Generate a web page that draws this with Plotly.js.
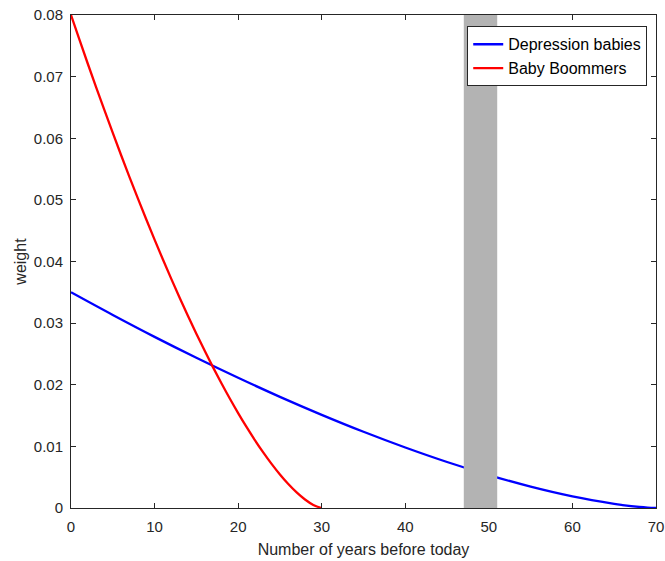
<!DOCTYPE html>
<html>
<head>
<meta charset="utf-8">
<script src="https://cdn.plot.ly/plotly-3.0.1.min.js"></script>
<style>html,body{margin:0;padding:0;background:#fff;}#chart{width:665px;height:561px;}</style>
</head>
<body>
<div id="chart"></div>
<script>
// Depression babies weights
const yearsBlue = [0, 5, 10, 15, 20, 25, 30, 35, 40, 45, 50, 55, 60, 65, 66, 68, 69, 70];
const weightBlue = [0.035, 0.03132, 0.02777, 0.02438, 0.02113, 0.01804, 0.01512, 0.01237, 0.00982, 0.00747, 0.00535, 0.00347, 0.00189, 0.00067, 0.00048, 0.00017, 0.00006, 0];
// Baby Boommers weights
const yearsRed = [0, 1, 2, 3, 4, 5, 6, 7, 8, 9, 10, 11, 12, 13, 14, 15, 16, 17, 18, 19, 20, 21, 22, 23, 24, 25, 26, 27, 28, 29, 30];
const weightRed = [0.08, 0.07603, 0.07213, 0.06830, 0.06455, 0.06086, 0.05724, 0.05370, 0.05024, 0.04685, 0.04355, 0.04032, 0.03718, 0.03413, 0.03116, 0.02828, 0.02550, 0.02282, 0.02024, 0.01776, 0.01540, 0.01315, 0.01102, 0.00902, 0.00716, 0.00544, 0.00389, 0.00253, 0.00138, 0.00049, 0];
// shaded band
const bandYears = [47, 51];
const seriesNames = ['Depression babies', 'Baby Boommers'];
const xTicks = [0, 10, 20, 30, 40, 50, 60, 70];
const yTicks = [0, 0.01, 0.02, 0.03, 0.04, 0.05, 0.06, 0.07, 0.08];
const yTickText = ['0', '0.01', '0.02', '0.03', '0.04', '0.05', '0.06', '0.07', '0.08'];

const fontFam = '"Liberation Sans", Arial, sans-serif';
const axColor = '#262626';

const traces = [
  {x: yearsBlue, y: weightBlue, name: seriesNames[0], mode: 'lines',
   line: {color: '#0000ff', width: 2.3, shape: 'spline'}},
  {x: yearsRed, y: weightRed, name: seriesNames[1], mode: 'lines',
   line: {color: '#ff0000', width: 2.3, shape: 'spline'}}
];

const axisCommon = {
  showgrid: false, zeroline: false, showline: true, mirror: 'ticks',
  linecolor: axColor, linewidth: 1, ticks: 'inside', ticklen: 5, tickcolor: axColor,
  tickfont: {family: fontFam, size: 15, color: axColor}
};

const layout = {
  width: 665, height: 561,
  margin: {l: 71, r: 9, t: 15, b: 53},
  paper_bgcolor: '#fff', plot_bgcolor: '#fff',
  showlegend: true,
  legend: {x: 0.985, y: 0.977, xanchor: 'right', yanchor: 'top',
    bgcolor: '#fff', bordercolor: axColor, borderwidth: 1,
    font: {family: fontFam, size: 16, color: '#000'}, tracegroupgap: 0},
  xaxis: Object.assign({}, axisCommon, {
    range: [0, 70], tickvals: xTicks, ticktext: xTicks.map(String), ticklabelstandoff: 5,
    title: {text: 'Number of years before today', font: {family: fontFam, size: 16, color: axColor}, standoff: 9}
  }),
  yaxis: Object.assign({}, axisCommon, {
    range: [0, 0.08], tickvals: yTicks, ticktext: yTickText, ticklabelstandoff: 4,
    title: {text: 'weight', font: {family: fontFam, size: 16, color: axColor}, standoff: 3}
  }),
  shapes: [{type: 'rect', xref: 'x', yref: 'paper', x0: bandYears[0], x1: bandYears[1], y0: 0, y1: 1,
    fillcolor: '#b3b3b3', line: {width: 0}, layer: 'above'}]
};

Plotly.newPlot('chart', traces, layout, {displayModeBar: false, staticPlot: true});
</script>
</body>
</html>
